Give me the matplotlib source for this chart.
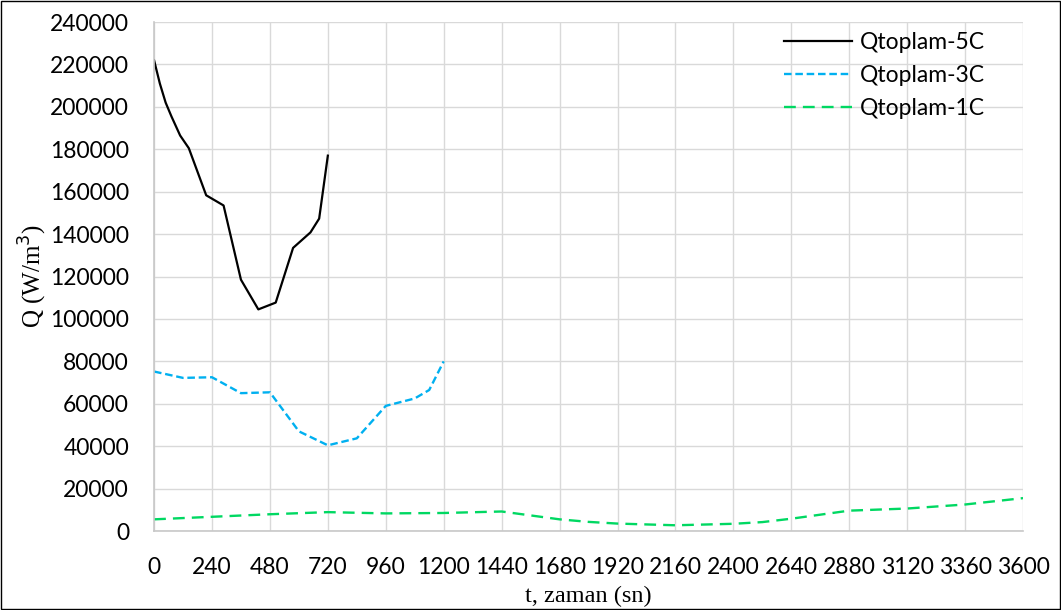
import numpy as np
import matplotlib
matplotlib.use("Agg")
import matplotlib.pyplot as plt

# Qtoplam for three C-rates (time in s, Q in W/m3)
t_5c = [0, 24, 48, 72, 108, 144, 216, 288, 360, 432, 504, 576, 648, 684, 720]
q_5c = [222000, 211000, 202000, 195500, 186500, 180500, 158300, 153500,
        118500, 104500, 107700, 133500, 140800, 147300, 177000]

t_3c = [0, 120, 240, 360, 480, 600, 720, 840, 960, 1080, 1140, 1200]
q_3c = [75200, 72200, 72500, 65000, 65400, 47000, 40400, 43700, 59000,
        62500, 66500, 80000]

t_1c = [0, 240, 480, 720, 960, 1200, 1440, 1680, 1800, 1920, 2160, 2400,
        2520, 2640, 2880, 3120, 3360, 3600]
q_1c = [5500, 6700, 7900, 8900, 8300, 8500, 9200, 5500, 4300, 3500, 2700,
        3400, 4200, 5800, 9600, 10600, 12500, 15500]

x_ticks = np.arange(0, 3601, 240)
y_ticks = np.arange(0, 240001, 20000)

plt.rcParams["font.family"] = ["Lato", "DejaVu Sans"]

fig = plt.figure(figsize=(10.61, 6.10), dpi=100)
ax = fig.add_axes([0.1452, 0.1295, 0.8190, 0.8344])

ax.plot(t_5c, q_5c, color="black", lw=1.6, label="Qtoplam-5C")
ax.plot(t_3c, q_3c, color="#00b0f0", lw=1.7, dashes=(3.2, 1.6),
        label="Qtoplam-3C")
ax.plot(t_1c, q_1c, color="#00d862", lw=1.7, dashes=(5, 3),
        label="Qtoplam-1C")

ax.set_xlim(0, 3600)
ax.set_ylim(0, 240000)
ax.set_xticks(x_ticks)
ax.set_yticks(y_ticks)
ax.tick_params(length=0, labelsize=16.5)
ax.tick_params(axis="x", pad=18.5)
ax.tick_params(axis="y", pad=18)
ax.grid(True, color="#d9d9d9", lw=1)
ax.set_axisbelow(True)
for side in ["top", "right"]:
    ax.spines[side].set_visible(False)
for side in ["left", "bottom"]:
    ax.spines[side].set_color("#c8c8c8")
    ax.spines[side].set_linewidth(1.2)

ax.set_xlabel("t, zaman (sn)", family="Liberation Serif", fontsize=17.5,
              labelpad=6)
ax.set_ylabel("Q (W/m$^3$)", family="Liberation Serif", fontsize=18,
              labelpad=1)

ax.legend(loc="upper left", bbox_to_anchor=(0.725, 0.981), frameon=False,
          fontsize=16.5, handlelength=2.97, handletextpad=0.35,
          labelspacing=0.54, borderpad=0, borderaxespad=0)

# thin frame around the whole figure
fig.patches.append(plt.Rectangle((0.001, 0.001), 0.998, 0.998,
                                 transform=fig.transFigure, fill=False,
                                 edgecolor="black", lw=1))

fig.savefig("out.png", dpi=100)
